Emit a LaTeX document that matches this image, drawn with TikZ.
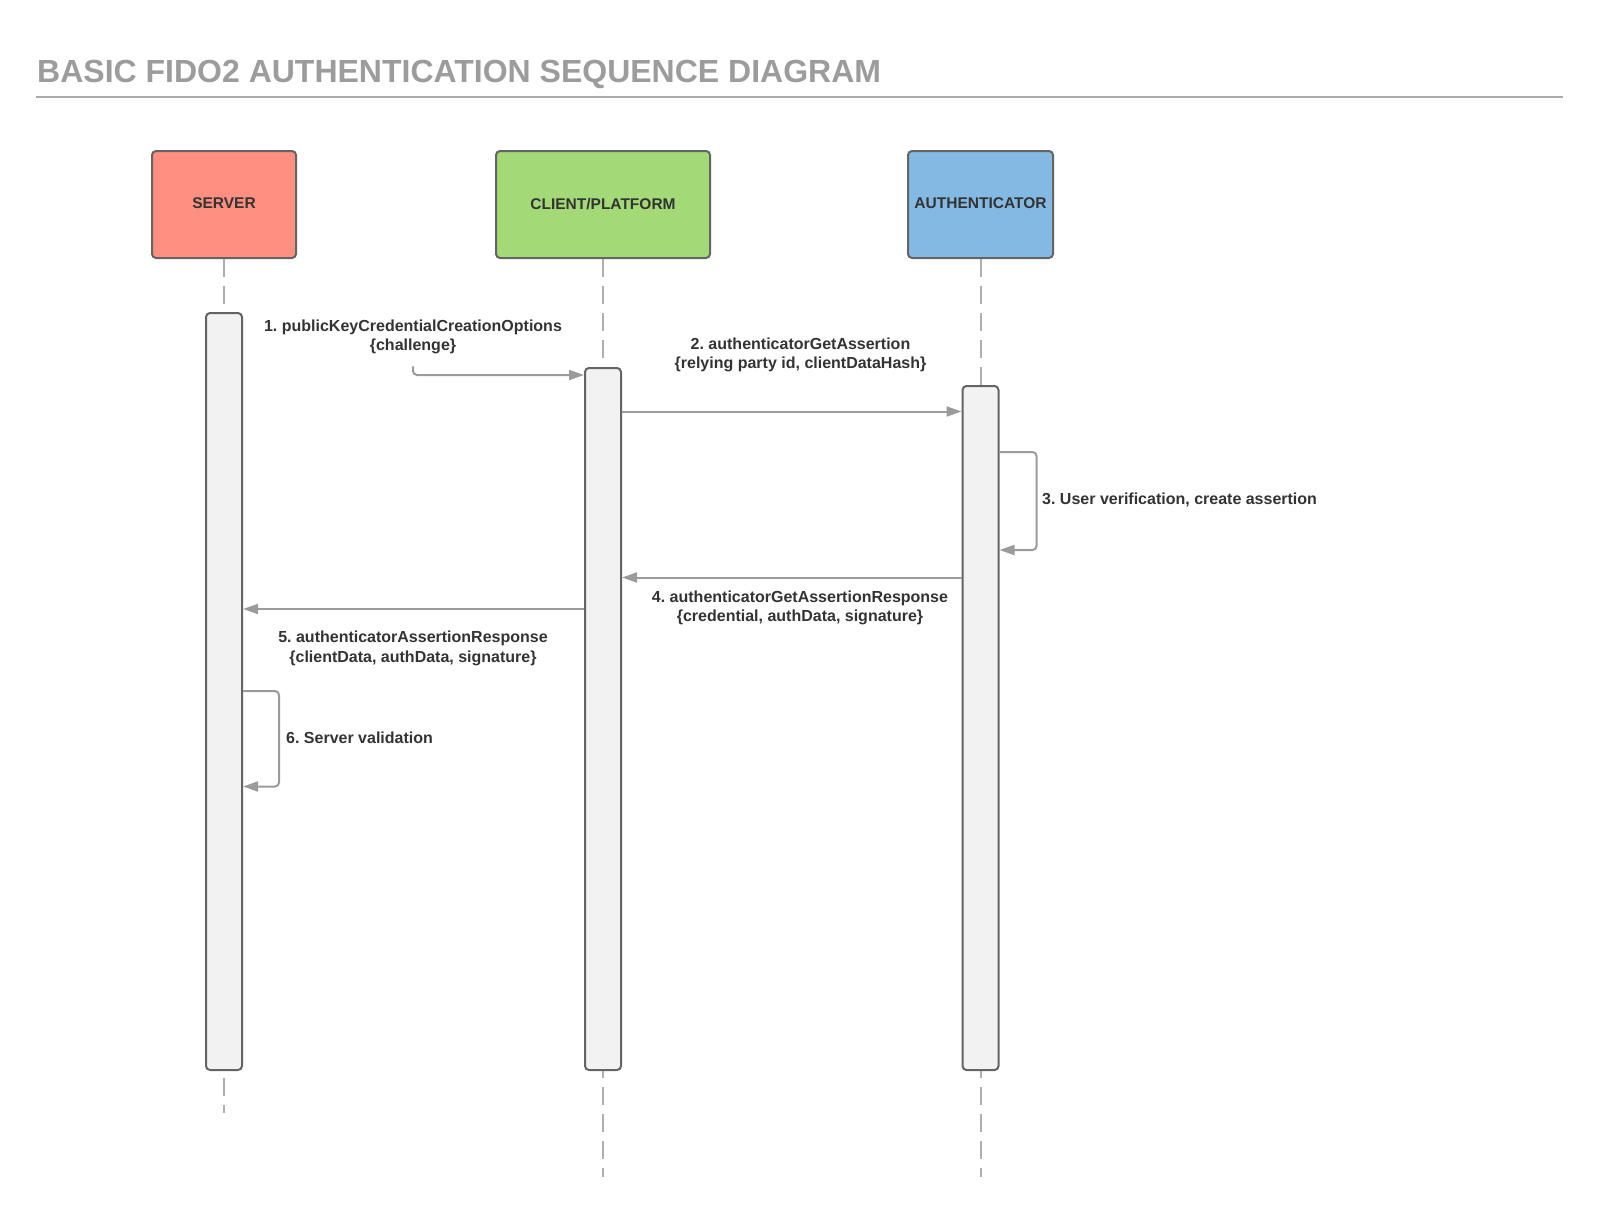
\documentclass[tikz,border=0pt]{standalone}
\usepackage{fontspec}
\setmainfont{Liberation Sans}
\frenchspacing
\usetikzlibrary{arrows.meta}
\definecolor{srvred}{HTML}{FF8F80}
\definecolor{cligreen}{HTML}{A3D977}
\definecolor{autblue}{HTML}{83B9E3}
\definecolor{barfill}{HTML}{F2F2F2}
\definecolor{edge}{HTML}{646464}
\definecolor{wire}{HTML}{9B9B9B}
\definecolor{txt}{HTML}{333333}
\definecolor{titlegray}{HTML}{9C9C9C}

\begin{document}
\begin{tikzpicture}[x=1pt, y=-1pt, actor/.style = {draw=edge, line width=2pt, rounded corners=4pt, minimum height=107pt, text=txt, font=\fontsize{15.5}{18}\selectfont\bfseries}, bar/.style = {draw=edge, line width=2pt, rounded corners=4pt, fill=barfill, minimum width=36pt, anchor=north}, life/.style = {draw=wire!80, line width=2pt, dash pattern=on 18pt off 9pt}, msg/.style = {draw=wire, line width=2pt, -{Triangle[length=15pt, width=10pt]}}, lbl/.style = {text=txt, align=center, inner sep=0pt, font=\fontsize{16}{19.5}\selectfont\bfseries}]
    \useasboundingbox (0,0) rectangle (1600,1213);

    % title
    \node[anchor=base west, inner sep=0pt, text=titlegray, font=\fontsize{32}{36}\selectfont\bfseries] (title) at (37,82) {BASIC FIDO2 AUTHENTICATION SEQUENCE DIAGRAM};
    \draw[draw=wire!85, line width=2.5pt] (36,97) -- (1563,97);

    % actors
    \node[actor, fill=srvred, minimum width=144pt] (server) at (224,204.5) {\raisebox{2pt}{SERVER}};
    \node[actor, fill=cligreen, minimum width=214pt] (client) at (603,204.5) {\raisebox{2pt}{CLIENT/PLATFORM}};
    \node[actor, fill=autblue, minimum width=145pt] (auth) at (980.5,204.5) {\raisebox{2pt}{AUTHENTICATOR}};

    % activations
    \node[bar, minimum height=757pt] (srvbar) at (224,312) {};
    \node[bar, minimum height=702pt] (clibar) at (603,367) {};
    \node[bar, minimum height=684pt] (autbar) at (980.5,385) {};

    % lifelines
    \coordinate (srvend) at (224,1113);
    \coordinate (cliend) at (603,1177);
    \coordinate (autend) at (980.5,1177);
    \draw[life] (server.south) -- (srvbar.north);
    \draw[life] (client.south) -- (clibar.north);
    \draw[life] (auth.south) -- (autbar.north);
    \draw[life] (srvbar.south) ++(0,7) -- (srvend);
    \draw[life, dash phase=11pt] (clibar.south) -- (cliend);
    \draw[life, dash phase=11pt] (autbar.south) -- (autend);

    % message levels
    \coordinate (y1) at (0,375);
    \coordinate (y2) at (0,411.5);
    \coordinate (y3a) at (0,452);
    \coordinate (y3b) at (0,550);
    \coordinate (y4) at (0,577.5);
    \coordinate (y5) at (0,609);
    \coordinate (y6a) at (0,691);
    \coordinate (y6b) at (0,786.5);

    % messages
    \node[lbl] (m1) at (413,337) {1. publicKeyCredentialCreationOptions\\{\{}challenge\}};
    \draw[msg, rounded corners=4pt] ([yshift=-12pt]m1.south) |- (clibar.west |- y1);

    \node[lbl] (m2) at (800.5,355) {2. authenticatorGetAssertion\\{\{}relying party id, clientDataHash\}};
    \draw[msg] (clibar.east |- y2) -- (autbar.west |- y2);

    \draw[msg, rounded corners=4pt] (autbar.east |- y3a) -- ++(37,0) |- (autbar.east |- y3b);
    \node[lbl, anchor=west] (m3) at (1042,500) {3. User verification, create assertion};

    \draw[msg] (autbar.west |- y4) -- (clibar.east |- y4);
    \node[lbl] (m4) at (800,608) {4. authenticatorGetAssertionResponse\\{\{}credential, authData, signature\}};

    \draw[msg] (clibar.west |- y5) -- (srvbar.east |- y5);
    \node[lbl] (m5) at (413,648.5) {5. authenticatorAssertionResponse\\{\{}clientData, authData, signature\}};

    \draw[msg, rounded corners=4pt] (srvbar.east |- y6a) -- ++(36,0) |- (srvbar.east |- y6b);
    \node[lbl, anchor=west] (m6) at (286,738) {6. Server validation};

\end{tikzpicture}
\end{document}
